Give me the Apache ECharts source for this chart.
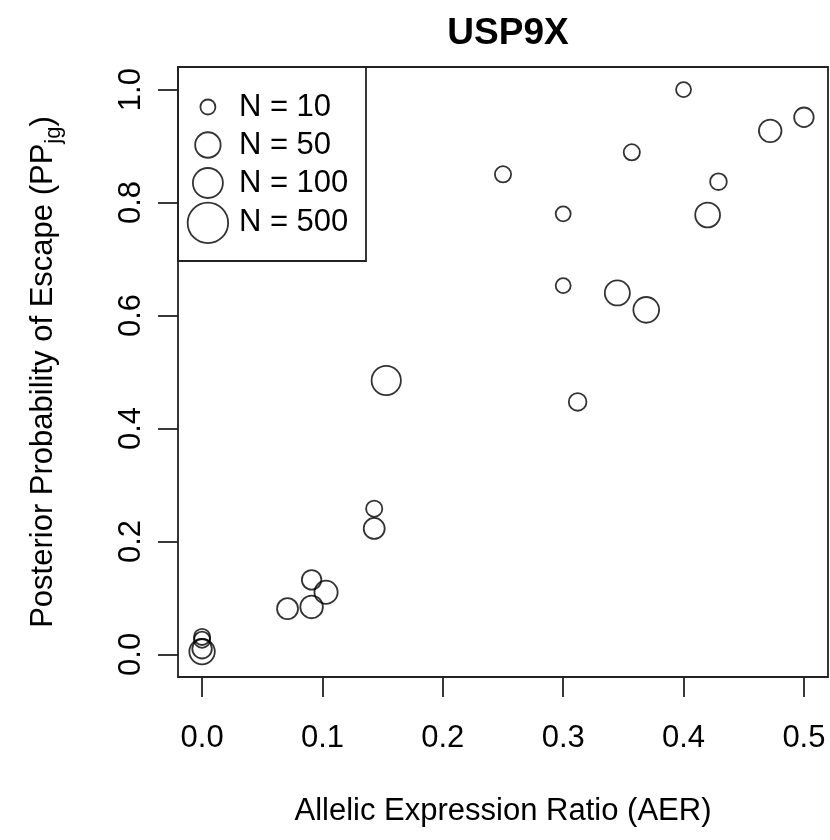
<!DOCTYPE html>
<html>
<head>
<meta charset="utf-8">
<title>USP9X</title>
<script src="https://cdn.jsdelivr.net/npm/echarts@6/dist/echarts.min.js"></script>
<style>
  html, body { margin: 0; padding: 0; background: #fff; }
  #main { width: 830px; height: 840px; }
</style>
</head>
<body>
<div id="main"></div>
<script>
// allelic expression ratio, posterior probability, read count per point
var aer = [0.4, 0.5, 0.472, 0.357, 0.25, 0.429, 0.3, 0.42, 0.3, 0.345, 0.369, 0.153, 0.312,
           0.143, 0.143, 0.091, 0.103, 0.071, 0.091, 0, 0, 0, 0];
var pp = [1.0, 0.951, 0.927, 0.889, 0.850, 0.837, 0.780, 0.778, 0.653, 0.640, 0.610, 0.485, 0.447,
          0.258, 0.223, 0.132, 0.110, 0.081, 0.084, 0.031, 0.026, 0.010, 0.005];
var nReads = [10, 20, 32, 12, 12, 13, 10, 45, 10, 47, 52, 90, 15,
              12, 25, 20, 35, 25, 32, 12, 12, 20, 50];

var xTicks = [0, 0.1, 0.2, 0.3, 0.4, 0.5];
var yTicks = [0, 0.2, 0.4, 0.6, 0.8, 1.0];
var legendN = [10, 50, 100, 500];

var FONT = 'Liberation Sans, Arial, Helvetica, sans-serif';

function sizeOf(n) {
    return 15 * Math.log10(n);
}

var points = aer.map(function (x, i) {
    return [x, pp[i], nReads[i]];
});

var series = [{
    name: 'AER',
    type: 'scatter',
    data: points,
    symbol: 'circle',
    symbolSize: function (v) { return sizeOf(v[2]); },
    itemStyle: { color: 'rgba(0,0,0,0)', borderColor: '#000', borderWidth: 1.8 },
    silent: true
}];

// one empty series + one legend component per size, so each icon gets its own size
var legends = [];
var centersY = [107, 145, 183, 222];
legendN.forEach(function (n, i) {
    var name = 'N = ' + n;
    var d = sizeOf(n);
    series.push({ name: name, type: 'scatter', data: [] });
    var h = Math.max(d, 34);
    legends.push({
        data: [{ name: name, icon: 'circle' }],
        left: 207 - d / 2,
        top: centersY[i] - h / 2,
        padding: 0,
        itemWidth: d,
        itemHeight: d,
        selectedMode: false,
        itemStyle: { color: 'rgba(0,0,0,0)', borderColor: '#000', borderWidth: 1.8 },
        textStyle: {
            fontFamily: FONT, fontSize: 31, color: '#000', lineHeight: 34,
            padding: [0, 0, 0, 238 - (207 + d / 2 + 5)]
        }
    });
});

var chart = echarts.init(document.getElementById('main'));
chart.setOption({
    animation: false,
    backgroundColor: '#fff',
    title: {
        text: 'USP9X',
        left: 503,
        top: 10,
        textAlign: 'center',
        textStyle: { fontFamily: FONT, fontSize: 37, fontWeight: 'bold', color: '#000' }
    },
    grid: {
        left: 178, right: 2, top: 67, bottom: 163,
        show: true, borderColor: '#222', borderWidth: 1.8, backgroundColor: 'transparent'
    },
    xAxis: {
        type: 'value',
        min: -0.02,
        max: 0.52,
        name: 'Allelic Expression Ratio (AER)',
        nameLocation: 'middle',
        nameGap: 119,
        nameTextStyle: { fontFamily: FONT, fontSize: 31, color: '#000' },
        axisLine: { show: false, onZero: false },
        splitLine: { show: false },
        axisTick: { show: true, inside: false, customValues: xTicks, length: 20, lineStyle: { color: '#222', width: 1.8 } },
        axisLabel: {
            customValues: xTicks, margin: 46,
            fontFamily: FONT, fontSize: 31, color: '#000',
            formatter: function (v) { return v.toFixed(1); }
        }
    },
    yAxis: {
        type: 'value',
        min: -0.04,
        max: 1.04,
        name: '{n|Posterior Probability of Escape (PP}{s|jg}{n|)}',
        nameLocation: 'middle',
        nameGap: 113,
        nameTextStyle: {
            fontFamily: FONT, color: '#000',
            rich: {
                n: { fontFamily: FONT, fontSize: 31, color: '#000', lineHeight: 44, verticalAlign: 'middle' },
                s: { fontFamily: FONT, fontSize: 22, color: '#000', lineHeight: 44, verticalAlign: 'bottom' }
            }
        },
        axisLine: { show: false, onZero: false },
        splitLine: { show: false },
        axisTick: { show: true, inside: false, customValues: yTicks, length: 20, lineStyle: { color: '#222', width: 1.8 } },
        axisLabel: {
            customValues: yTicks, margin: 31, rotate: 90,
            fontFamily: FONT, fontSize: 31, color: '#000',
            formatter: function (v) { return v.toFixed(1); }
        }
    },
    legend: legends,
    graphic: [{
        type: 'rect',
        shape: { x: 178, y: 67, width: 188, height: 194 },
        style: { fill: 'none', stroke: '#222', lineWidth: 1.8 },
        silent: true
    }],
    series: series
});
window.addEventListener('resize', function () {
    chart.resize();
});
</script>
</body>
</html>
